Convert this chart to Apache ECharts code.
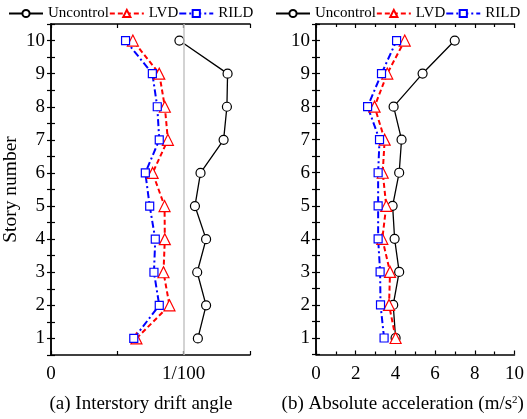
<!DOCTYPE html>
<html><head><meta charset="utf-8">
<script src="https://cdn.jsdelivr.net/npm/echarts@6/dist/echarts.min.js"></script>
<style>html,body{margin:0;padding:0;background:#fff}#c{width:527px;height:419px}</style>
</head><body><div id="c"></div>
<script>
const stories = [1,2,3,4,5,6,7,8,9,10];
const driftUncontrol = [0.01107,0.01169,0.01102,0.01169,0.01085,0.01127,0.01301,0.01326,0.01331,0.00968];
const driftLVD       = [0.00644,0.00893,0.00848,0.00858,0.00856,0.00766,0.00881,0.00858,0.00816,0.00617];
const driftRILD      = [0.00624,0.00816,0.00776,0.00786,0.00744,0.00711,0.00816,0.00801,0.00764,0.00562];
const accUncontrol = [4.01,3.89,4.19,3.96,3.86,4.19,4.31,3.91,5.37,6.99];
const accLVD       = [4.01,3.68,3.73,3.34,3.54,3.36,3.46,2.95,3.59,4.47];
const accRILD      = [3.43,3.25,3.23,3.13,3.13,3.13,3.20,2.60,3.30,4.06];
const seriesNames = ['Uncontrol','LVD','RILD'];

const FONT = "'Liberation Serif','Times New Roman',serif";
const pairs = (arr) => arr.map((v,i)=>[v, stories[i]]);
const styles = {
  Uncontrol:{color:'#000', symbol:'circle', size:9, line:{color:'#000', width:1.3, type:'solid'}},
  LVD:{color:'#ff0000', symbol:'triangle', size:11, line:{color:'#ff0000', width:2, type:[5,3]}},
  RILD:{color:'#0000ff', symbol:'rect', size:8, line:{color:'#0000ff', width:2, type:[7,3,2,3]}}
};
function mk(name, data, idx){
  const s = styles[name];
  return {
    name, type:'line', data: pairs(data), xAxisIndex: idx*2, yAxisIndex: idx*2,
    symbol: s.symbol, symbolSize: s.size, showAllSymbol: true,
    lineStyle: s.line,
    itemStyle:{color:'#fff', borderColor: s.color, borderWidth:1.2},
    emphasis:{disabled:true}, animation:false, z: name==='Uncontrol'?2:3
  };
}
const axLine = {show:true, lineStyle:{color:'#000', width:1.5}};
function yAxes(gi, withName){
  const base = {type:'value', min:0.5, max:10.5, interval:0.5, gridIndex:gi,
    axisLine:axLine, splitLine:{show:false},
    axisTick:{show:true, inside:true, length:4, lineStyle:{color:'#000', width:1.2}}};
  return [
    Object.assign({}, base, {position:'left',
      axisLabel:{show:true, fontFamily:FONT, fontSize:19, color:'#000', margin:6,
        formatter:(v)=> Math.abs(v-Math.round(v))<1e-9 ? String(Math.round(v)) : ''},
      name: withName ? 'Story number' : '', nameLocation:'middle', nameGap:30,
      nameTextStyle:{fontFamily:FONT, fontSize:19.5, color:'#000'}}),
    Object.assign({}, base, {position:'right', axisLabel:{show:false}})
  ];
}
const legendBase = {data:seriesNames, top:6, padding:0, itemGap:0, itemWidth:34, itemHeight:9,
     selectedMode:false, textStyle:{fontFamily:FONT, fontSize:15, color:'#000'}};
const option = {
  backgroundColor:'#fff',
  animation:false,
  legend:[
    Object.assign({left:8, width:260}, legendBase),
    Object.assign({left:275, width:252}, legendBase)
  ],
  grid:[
    {left:48, top:24, width:202, height:331},
    {left:316, top:24, width:201, height:331}
  ],
  xAxis:[
    {type:'value', gridIndex:0, position:'bottom', min:0, max:0.015, interval:0.005,
     axisLine:axLine, splitLine:{show:false},
     axisTick:{show:true, inside:true, length:4, lineStyle:{color:'#000', width:1.2}},
     axisLabel:{fontFamily:FONT, fontSize:19, color:'#000', margin:10,
       formatter:(v)=> v===0 ? '0' : (Math.abs(v-0.01)<1e-9 ? '1/100' : '')},
     name:'(a) Interstory drift angle', nameLocation:'middle', nameGap:40,
     nameTextStyle:{fontFamily:FONT, fontSize:19, color:'#000', padding:[0,19,0,0]}},
    {type:'value', gridIndex:0, position:'top', min:0, max:0.015, interval:0.005,
     axisLine:axLine, splitLine:{show:false}, axisLabel:{show:false},
     axisTick:{show:true, inside:true, length:4, lineStyle:{color:'#000', width:1.2}}},
    {type:'value', gridIndex:1, position:'bottom', min:0, max:10, interval:2,
     axisLine:axLine, splitLine:{show:false},
     axisTick:{show:true, inside:true, length:4, lineStyle:{color:'#000', width:1.2}},
     minorTick:{show:true, splitNumber:2, length:3, lineStyle:{color:'#000', width:1.2}},
     axisLabel:{fontFamily:FONT, fontSize:19, color:'#000', margin:10},
     name:'(b) Absolute acceleration (m/s{sup|2})', nameLocation:'middle', nameGap:40,
     nameTextStyle:{fontFamily:FONT, fontSize:19, color:'#000', padding:[0,25,0,0],
       rich:{sup:{fontFamily:FONT, fontSize:11, color:'#000', verticalAlign:'top', padding:[0,0,9,0]}}}},
    {type:'value', gridIndex:1, position:'top', min:0, max:10, interval:2,
     axisLine:axLine, splitLine:{show:false}, axisLabel:{show:false},
     axisTick:{show:true, inside:true, length:4, lineStyle:{color:'#000', width:1.2}},
     minorTick:{show:true, splitNumber:2, length:3, lineStyle:{color:'#000', width:1.2}}}
  ],
  yAxis: [...yAxes(0,true), ...yAxes(1,false)],
  series:[
    Object.assign(mk('Uncontrol', driftUncontrol, 0), {
      markLine:{silent:true, symbol:['none','none'], label:{show:false}, animation:false,
        lineStyle:{color:'#c4c4c4', width:1.5, type:'solid'}, data:[{xAxis:0.01}]}}),
    mk('LVD', driftLVD, 0),
    mk('RILD', driftRILD, 0),
    mk('Uncontrol', accUncontrol, 1),
    mk('LVD', accLVD, 1),
    mk('RILD', accRILD, 1)
  ]
};
const chart = echarts.init(document.getElementById('c'), null, {renderer:'canvas'});
chart.setOption(option);
</script></body></html>
